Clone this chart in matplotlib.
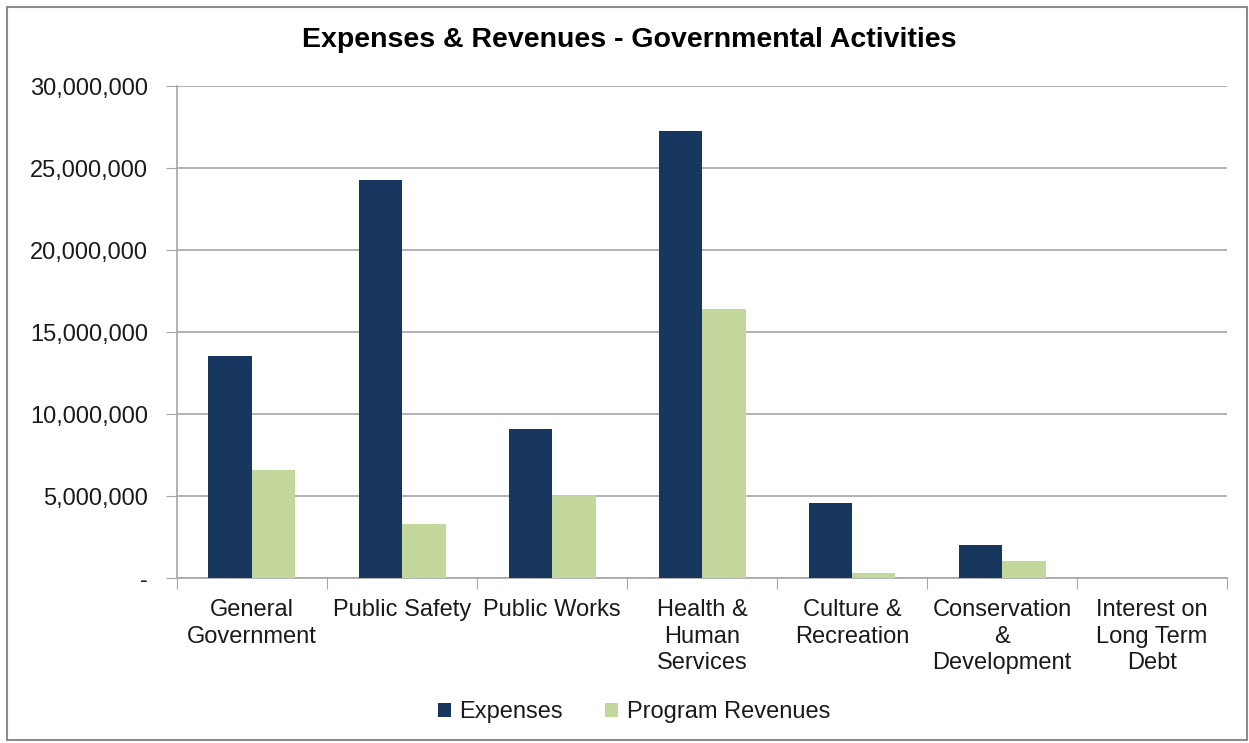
import matplotlib
matplotlib.use("Agg")
import matplotlib.pyplot as plt
import numpy as np
from matplotlib.ticker import FuncFormatter, FixedLocator, NullFormatter

plt.rcParams['font.family'] = ['Liberation Sans', 'DejaVu Sans']

categories = ["General\nGovernment", "Public Safety", "Public Works", "Health &\nHuman\nServices",
              "Culture &\nRecreation", "Conservation\n&\nDevelopment", "Interest on\nLong Term\nDebt"]
expenses = [13540000, 24270000, 9090000, 27260000, 4570000, 2010000, 0]
revenues = [6590000, 3290000, 5060000, 16400000, 300000, 1040000, 0]
series_names = ["Expenses", "Program Revenues"]
colors = ["#17375E", "#C3D69B"]

fig = plt.figure(figsize=(12.49, 7.43), dpi=100)
ax = fig.add_axes([177/1249, 1-578/743, 1050/1249, (578-86)/743])

x = np.arange(len(categories))
w = 0.29
ax.bar(x - w/2, expenses, w, color=colors[0], label=series_names[0], zorder=3)
ax.bar(x + w/2, revenues, w, color=colors[1], label=series_names[1], zorder=3)

ax.set_xlim(-0.5, len(categories) - 0.5)
ax.set_ylim(0, 30000000)
ax.set_yticks(np.arange(0, 30000001, 5000000))
ax.yaxis.set_major_formatter(FuncFormatter(lambda v, p: "-" if v == 0 else f"{int(v):,}"))
ax.yaxis.grid(True, color="#a6a6a6", linewidth=1.2, zorder=0)
ax.tick_params(axis='y', length=8, color="#a6a6a6", labelsize=17, pad=13, labelcolor="#1a1a1a")

ax.xaxis.set_major_locator(FixedLocator(np.arange(-0.5, len(categories), 1.0)))
ax.xaxis.set_major_formatter(NullFormatter())
ax.xaxis.set_minor_locator(FixedLocator(x))
ax.set_xticks(x, categories, minor=True)
ax.tick_params(axis='x', which='major', length=8, color="#a6a6a6", direction='out')
ax.tick_params(axis='x', which='minor', length=0, labelsize=17, pad=15, labelcolor="#1a1a1a")
for lab in ax.get_xticklabels(minor=True):
    lab.set_linespacing(1.28)

for s in ["top", "right"]:
    ax.spines[s].set_visible(False)
for s in ["left", "bottom"]:
    ax.spines[s].set_color("#a6a6a6")
    ax.spines[s].set_linewidth(1.2)

fig.text(629/1249, 1-40/743, "Expenses & Revenues - Governmental Activities",
         ha="center", va="center", fontsize=20.5, fontweight="bold")

fig.legend(loc="center", bbox_to_anchor=(634/1249, 1-712/743), ncol=2, frameon=False,
           fontsize=17, handlelength=0.55, handleheight=0.55, handletextpad=0.35, columnspacing=1.8,
           labelcolor="#1a1a1a")

border = plt.Rectangle((7/1249, 1-740/743), 1240/1249, 733/743, transform=fig.transFigure,
                       fill=False, edgecolor="#8c8c8c", linewidth=1.5)
fig.patches.append(border)

fig.savefig("out.png", dpi=100)
